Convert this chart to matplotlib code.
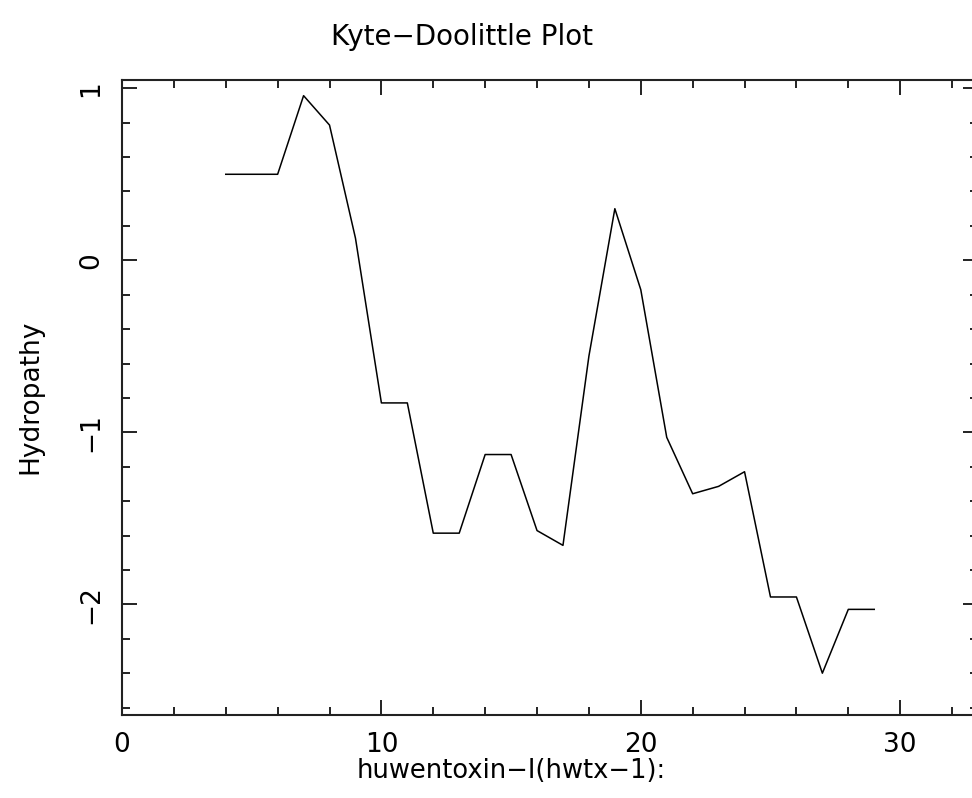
import numpy as np
import matplotlib
matplotlib.use("Agg")
import matplotlib.pyplot as plt
from matplotlib.ticker import MultipleLocator

# --- data (window centre, mean hydropathy) ---
position = [4, 5, 6, 7, 8, 9, 10, 11, 12, 13, 14, 15, 16,
            17, 18, 19, 20, 21, 22, 23, 24, 25, 26, 27, 28, 29]
hydropathy = [0.500, 0.500, 0.500, 0.957, 0.786, 0.129, -0.829, -0.829,
              -1.586, -1.586, -1.129, -1.129, -1.571, -1.657, -0.557, 0.300,
              -0.171, -1.029, -1.357, -1.314, -1.229, -1.957, -1.957, -2.400,
              -2.029, -2.029]

title = "Kyte\u2212Doolittle Plot"
xlabel = "huwentoxin\u2212I(hwtx\u22121):"
ylabel = "Hydropathy"

W, H = 972, 798
fig = plt.figure(figsize=(W / 100, H / 100), dpi=100)
plt.rcParams['font.family'] = ['DejaVu Sans']

# axes box in pixels: left 122, right 978, top 80, bottom 715
left, right, top, bottom = 122, 978, 80, 715
ax = fig.add_axes([left / W, 1 - bottom / H, (right - left) / W, (bottom - top) / H])

ax.plot(position, hydropathy, color='black', lw=1.1)

ax.set_xlim(0, 33)
ax.set_ylim(-2.643, 1.048)

ax.xaxis.set_major_locator(MultipleLocator(10))
ax.xaxis.set_minor_locator(MultipleLocator(2))
ax.yaxis.set_major_locator(MultipleLocator(1))
ax.yaxis.set_minor_locator(MultipleLocator(0.2))

ax.tick_params(which='both', direction='in', top=True, right=True,
               color='#222222', width=1.4)
ax.tick_params(which='major', length=11)
ax.tick_params(which='minor', length=5.8)
ax.tick_params(axis='x', which='major', labelsize=19, pad=12)
ax.tick_params(axis='y', which='major', labelsize=19, pad=13)
for lab in ax.get_yticklabels():
    lab.set_rotation(90)
    lab.set_va('center')

ax.xaxis.set_major_formatter(plt.FuncFormatter(lambda v, p: f"{v:g}".replace('-', '\u2212')))
ax.yaxis.set_major_formatter(plt.FuncFormatter(lambda v, p: f"{v:g}".replace('-', '\u2212')))

for s in ax.spines.values():
    s.set_linewidth(1.5)
    s.set_color('#222222')

fig.text(462 / W, 1 - 37 / H, title, ha='center', va='center', fontsize=20)
fig.text(511 / W, 1 - 771 / H, xlabel, ha='center', va='center', fontsize=18.5)
fig.text(30 / W, 1 - 397 / H, ylabel, ha='center', va='center', fontsize=19,
         rotation=90)

fig.savefig("out.png", dpi=100)
